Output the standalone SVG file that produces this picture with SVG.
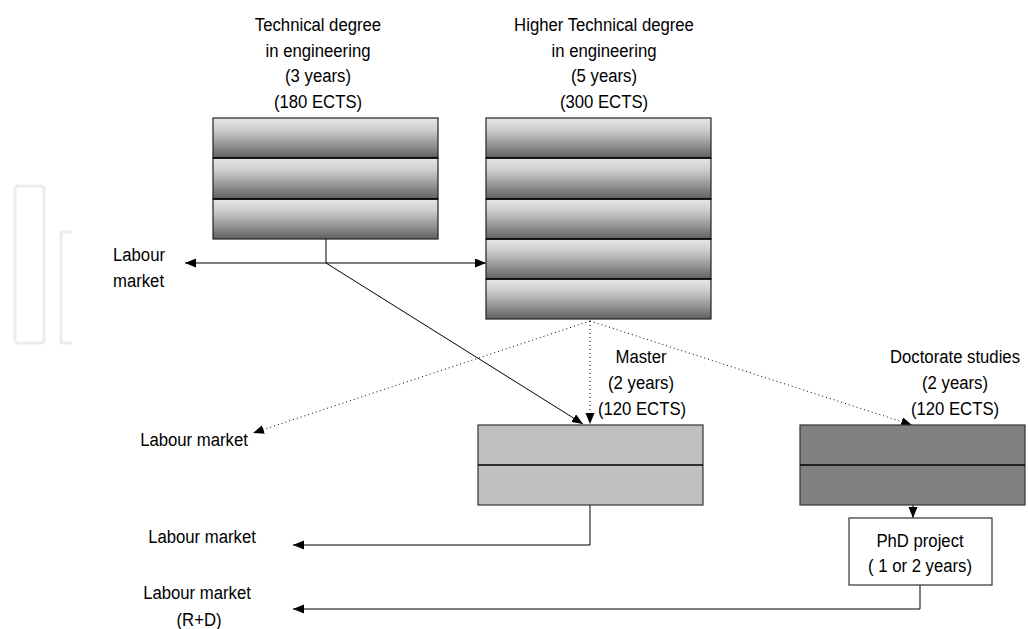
<svg xmlns="http://www.w3.org/2000/svg" width="1028" height="629" viewBox="0 0 1028 629">
<defs>
<linearGradient id="band" x1="0" y1="0" x2="0" y2="1">
<stop offset="0" stop-color="#e6e6e6"/>
<stop offset="0.3" stop-color="#cdcdcd"/>
<stop offset="1" stop-color="#616161"/>
</linearGradient>
<marker id="ah" markerUnits="userSpaceOnUse" markerWidth="12" markerHeight="10" refX="11" refY="4.5" orient="auto-start-reverse">
<path d="M0,0 L11,4.5 L0,9 z" fill="#000"/>
</marker>
<style>
text{font-family:"Liberation Sans",Arial,sans-serif;font-size:19px;fill:#000;text-anchor:middle}
.l{text-anchor:start}
.band{fill:url(#band);stroke:#222;stroke-width:1.2}
.div{stroke:#000;stroke-width:1.6}
.c{fill:none;stroke:#000;stroke-width:1}
.d{fill:none;stroke:#000;stroke-width:1;stroke-dasharray:1 3}
.wm{fill:none;stroke:#eceeee;stroke-width:3}
</style>
</defs>
<rect width="1028" height="629" fill="#fff"/>
<g id="watermark">
<rect class="wm" x="15" y="186" width="29" height="157" rx="3"/>
<path class="wm" d="M72,232 L61,232 L61,343 L72,343"/>
</g>
<g id="connectors">
<path class="c" d="M326,239 L326,263"/>
<path class="c" d="M185,263 L486,263" marker-start="url(#ah)" marker-end="url(#ah)"/>
<path class="c" d="M326,263 L583,424" marker-end="url(#ah)"/>
<path class="d" d="M590,321 L590,424" marker-end="url(#ah)"/>
<path class="d" d="M590,321 L253,433" marker-end="url(#ah)"/>
<path class="d" d="M590,321 L912,425" marker-end="url(#ah)"/>
<path class="c" d="M590,505 L590,545 L293,545" marker-end="url(#ah)"/>
<path class="c" d="M913,505 L913,518" marker-end="url(#ah)"/>
<path class="c" d="M920,585 L920,609 L293,609" marker-end="url(#ah)"/>
</g>
<g id="technical">
<text transform="translate(318 31) scale(.88 1)">Technical degree</text>
<text transform="translate(318 57) scale(.88 1)">in engineering</text>
<text transform="translate(318 82) scale(.88 1)">(3 years)</text>
<text transform="translate(318 108) scale(.88 1)">(180 ECTS)</text>
<rect class="band" x="213" y="118" width="225" height="40"/>
<rect class="band" x="213" y="158" width="225" height="41"/>
<rect class="band" x="213" y="199" width="225" height="40"/>
<path class="div" d="M213,158 H438 M213,199 H438"/>
</g>
<g id="higher">
<text transform="translate(604 31) scale(.88 1)">Higher Technical degree</text>
<text transform="translate(604 57) scale(.88 1)">in engineering</text>
<text transform="translate(604 82) scale(.88 1)">(5 years)</text>
<text transform="translate(604 108) scale(.88 1)">(300 ECTS)</text>
<rect class="band" x="486" y="118" width="225" height="40"/>
<rect class="band" x="486" y="158" width="225" height="41"/>
<rect class="band" x="486" y="199" width="225" height="40"/>
<rect class="band" x="486" y="239" width="225" height="40"/>
<rect class="band" x="486" y="279" width="225" height="40"/>
<path class="div" d="M486,158 H711 M486,199 H711 M486,239 H711 M486,279 H711"/>
</g>
<g id="master">
<text transform="translate(641 363) scale(.88 1)">Master</text>
<text transform="translate(641 389) scale(.88 1)">(2 years)</text>
<text transform="translate(642 415) scale(.88 1)">(120 ECTS)</text>
<rect x="478" y="425" width="225" height="80" fill="#c0c0c0" stroke="#333" stroke-width="1.2"/>
<path class="div" d="M478,465 H703"/>
</g>
<g id="doctorate">
<text transform="translate(955 363) scale(.88 1)">Doctorate studies</text>
<text transform="translate(955 389) scale(.88 1)">(2 years)</text>
<text transform="translate(955 415) scale(.88 1)">(120 ECTS)</text>
<rect x="800" y="425" width="225" height="80" fill="#808080" stroke="#333" stroke-width="1.2"/>
<path class="div" d="M800,465 H1025"/>
</g>
<g id="phd">
<rect x="849" y="518" width="143" height="67" fill="#fff" stroke="#333" stroke-width="1.2"/>
<text transform="translate(920 547) scale(.88 1)">PhD project</text>
<text transform="translate(920 572) scale(.88 1)">( 1 or 2 years)</text>
</g>
<g id="labour1">
<text class="l" transform="translate(113 261) scale(.88 1)">Labour</text>
<text class="l" transform="translate(113 287) scale(.88 1)">market</text>
</g>
<g id="labour2">
<text transform="translate(194 446) scale(.88 1)">Labour market</text>
</g>
<g id="labour3">
<text transform="translate(202 543) scale(.88 1)">Labour market</text>
</g>
<g id="labour4">
<text transform="translate(197 599) scale(.88 1)">Labour market</text>
<text transform="translate(199 626) scale(.88 1)">(R+D)</text>
</g>
</svg>
